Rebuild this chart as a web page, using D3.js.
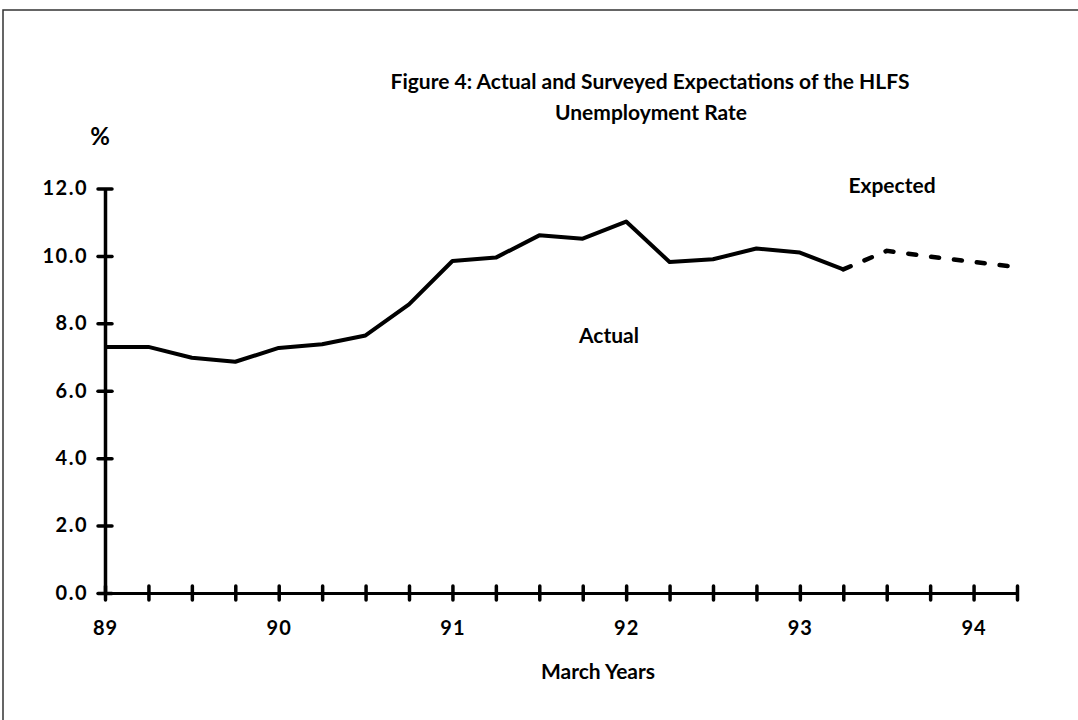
<!DOCTYPE html>
<html>
<head>
<meta charset="utf-8">
<script src="https://cdn.jsdelivr.net/npm/d3@7"></script>
<style>
  body { margin: 0; background: #fff; }
  text { font-family: "Lato", "DejaVu Sans", sans-serif; fill: #000; }
</style>
</head>
<body>
<div id="canvas"></div>
<script>
// quarterly March years, actual series then the surveyed expectation
const actualYears = [89, 89.25, 89.5, 89.75, 90, 90.25, 90.5, 90.75, 91, 91.25, 91.5, 91.75, 92, 92.25, 92.5, 92.75, 93, 93.25];
const actualRate = [7.3, 7.3, 6.98, 6.86, 7.27, 7.38, 7.64, 8.56, 9.85, 9.95, 10.61, 10.51, 11.02, 9.82, 9.9, 10.22, 10.1, 9.6];
const expectedYears = [93.25, 93.5, 93.75, 94, 94.25];
const expectedRate = [9.6, 10.15, 9.98, 9.82, 9.67];
const yearTicks = [89, 90, 91, 92, 93, 94];
const yTicks = [0, 2, 4, 6, 8, 10, 12];

const width = 1078;
const height = 720;
const margin = { top: 188.5, left: 105, bottom: 127, right: 61 };
const iwidth = width - margin.left - margin.right;
const iheight = height - margin.top - margin.bottom;

const svg = d3.select("#canvas").append("svg")
    .attr("width", width).attr("height", height)
    .attr("viewBox", [0, 0, width, height]);

// frame
svg.append("path")
    .attr("d", `M3,${height} L3,10 L${width},10`)
    .attr("fill", "none").attr("stroke", "#333").attr("stroke-width", 1.5);

const x = d3.scaleLinear().domain([89, 94.25]).range([0, iwidth]);
const y = d3.scaleLinear().domain([0, 12]).range([iheight, 0]);

const g = svg.append("g").attr("transform", `translate(${margin.left},${margin.top})`);

// x axis: quarterly ticks crossing the line
const quarterTicks = d3.range(0, 22).map(i => 89 + i * 0.25);
const xAxis = g.append("g")
    .attr("transform", `translate(0,${iheight})`)
    .call(d3.axisBottom(x).tickValues(quarterTicks).tickSize(7).tickSizeOuter(0)
        .tickFormat(d => yearTicks.includes(d) ? d : ""));
xAxis.select(".domain").attr("stroke", "#000").attr("stroke-width", 3);
xAxis.selectAll(".tick line").attr("y1", -7).attr("stroke", "#000").attr("stroke-width", 3.5)
    .attr("stroke-linecap", "round");
xAxis.selectAll(".tick text").attr("y", 28).attr("dy", "0.71em")
    .style("font-size", "20px").style("font-weight", "bold").style("letter-spacing", "1px");

// y axis
const yAxis = g.append("g")
    .call(d3.axisLeft(y).tickValues(yTicks).tickSize(7).tickSizeOuter(0).tickFormat(d3.format(".1f")));
yAxis.select(".domain").attr("stroke", "#000").attr("stroke-width", 3.5);
yAxis.selectAll(".tick line").attr("x1", 7).attr("stroke", "#000").attr("stroke-width", 3.5)
    .attr("stroke-linecap", "round");
yAxis.selectAll(".tick text").attr("x", -17)
    .style("font-size", "20px").style("font-weight", "bold").style("letter-spacing", "1.5px");

const line = d3.line().x(d => x(d[0])).y(d => y(d[1]));

g.append("path")
    .datum(d3.zip(actualYears, actualRate))
    .attr("d", line)
    .attr("fill", "none").attr("stroke", "#000").attr("stroke-width", 4)
    .attr("stroke-linejoin", "round");

g.append("path")
    .datum(d3.zip(expectedYears, expectedRate))
    .attr("d", line)
    .attr("fill", "none").attr("stroke", "#000").attr("stroke-width", 4.5)
    .attr("stroke-dasharray", "8,15").attr("stroke-linecap", "round");

// titles and labels
svg.append("text").attr("x", 650).attr("y", 89).attr("text-anchor", "middle")
    .style("font-size", "21px").style("font-weight", "bold")
    .text("Figure 4: Actual and Surveyed Expectations of the HLFS");
svg.append("text").attr("x", 651).attr("y", 120).attr("text-anchor", "middle")
    .style("font-size", "21px").style("font-weight", "bold")
    .text("Unemployment Rate");
svg.append("text").attr("x", 100).attr("y", 145).attr("text-anchor", "middle")
    .style("font-size", "24px").style("font-weight", "bold").text("%");
svg.append("text").attr("x", 892).attr("y", 193).attr("text-anchor", "middle")
    .style("font-size", "21px").style("font-weight", "bold").text("Expected");
svg.append("text").attr("x", 609).attr("y", 343).attr("text-anchor", "middle")
    .style("font-size", "21px").style("font-weight", "bold").text("Actual");
svg.append("text").attr("x", 598).attr("y", 679).attr("text-anchor", "middle")
    .style("font-size", "21px").style("font-weight", "bold").text("March Years");
</script>
</body>
</html>
